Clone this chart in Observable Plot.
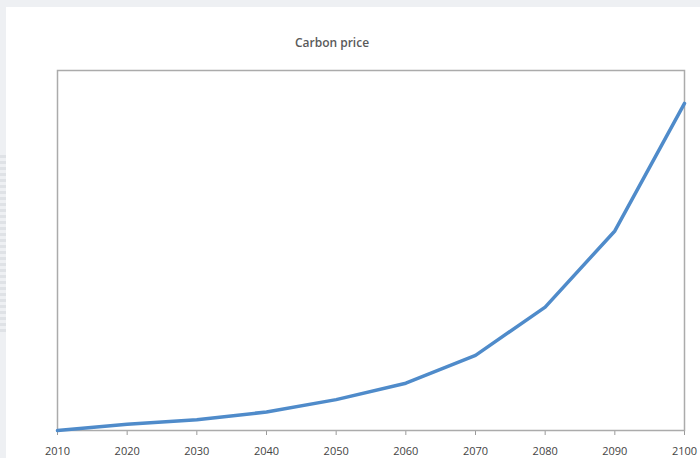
<!DOCTYPE html>
<html>
<head>
<meta charset="utf-8">
<script src="https://cdn.jsdelivr.net/npm/d3@7"></script>
<script src="https://cdn.jsdelivr.net/npm/@observablehq/plot@0.6"></script>
<style>
  html, body { margin: 0; padding: 0; }
  body {
    width: 700px; height: 458px; overflow: hidden; position: relative;
    background: #eef0f3;
    font-family: "Open Sans", "Liberation Sans", sans-serif;
  }
  #strip {
    position: absolute; left: 0; top: 155px; width: 6px; height: 178px;
    background: repeating-linear-gradient(#dfe2e6 0 3px, #eef0f3 3px 6px);
  }
  #panel {
    position: absolute; left: 6px; top: 7px; right: 0; bottom: 0;
    background: #ffffff;
  }
  #chart { position: absolute; left: 0; top: 0; }
  #title {
    position: absolute; left: 332px; top: 42px; transform: translate(-50%, -50%);
    font-size: 12px; font-weight: 600; color: #5a5a5a; white-space: nowrap;
  }
</style>
</head>
<body>
<div id="strip"></div>
<div id="panel"></div>
<div id="chart"></div>
<div id="title">Carbon price</div>
<script>
// Carbon price path, one value per decade
const years  = [2010, 2020, 2030, 2040, 2050, 2060, 2070, 2080, 2090, 2100];
const prices = [0, 6, 10.5, 18, 30, 46, 73, 120, 194, 318];
const xTicks = [2010, 2020, 2030, 2040, 2050, 2060, 2070, 2080, 2090, 2100];

const rows = years.map((year, i) => ({year, price: prices[i]}));

const chart = Plot.plot({
  width: 700,
  height: 458,
  marginLeft: 57,
  marginRight: 16,
  marginTop: 70,
  marginBottom: 28,
  style: {background: "transparent", fontFamily: "'Open Sans', sans-serif", fontSize: "11px", color: "#444"},
  x: {domain: [2010, 2100], ticks: xTicks, tickFormat: d => String(d), tickSize: 5, tickPadding: 12, label: null},
  y: {domain: [0, 350], axis: null},
  marks: [
    Plot.frame({stroke: "#ababab", strokeWidth: 1.5}),
    Plot.line(rows, {x: "year", y: "price", stroke: "#4f8bca", strokeWidth: 3.5, strokeLinejoin: "round", strokeLinecap: "round"})
  ]
});
chart.querySelectorAll("[aria-label='x-axis tick']").forEach(g => g.setAttribute("stroke", "#9a9a9a"));
document.getElementById("chart").appendChild(chart);
</script>
</body>
</html>
